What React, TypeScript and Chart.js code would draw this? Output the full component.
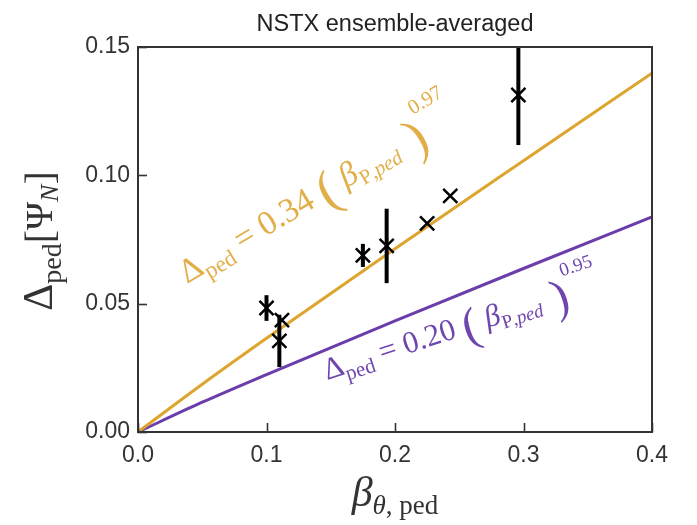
import React, { useEffect, useRef } from "react";
import { Chart, registerables } from "chart.js";

Chart.register(...registerables);

// ---- data ----
const betaPed = [0.1, 0.112, 0.11, 0.175, 0.1935, 0.225, 0.243, 0.296];
const deltaPed = [0.0483, 0.0436, 0.0355, 0.0688, 0.0725, 0.0813, 0.092, 0.1313];
const deltaErr = [0.005, 0.0, 0.0102, 0.0045, 0.0145, 0.0, 0.0, 0.0195];

const fitBeta = [0, 0.05, 0.1, 0.2, 0.3, 0.4];
const fitOrange = [0, 0.0186, 0.0365, 0.0714, 0.1057, 0.1398];
const fitPurple = [0, 0.0116, 0.0224, 0.0433, 0.0637, 0.0838];

const xTicks = [0, 0.1, 0.2, 0.3, 0.4];
const yTicks = [0, 0.05, 0.1, 0.15];

const titleText = "NSTX ensemble-averaged";

const ORANGE = "#DDA52E";
const ORANGE_TXT = "#E2AE48";
const PURPLE = "#6A3DAA";
const PURPLE_TXT = "#6E46AE";
const AXIS = "#333333";

type Seg = { t: string; f: string; dy: number };

function drawRich(ctx: CanvasRenderingContext2D, x: number, y: number, angleDeg: number, segs: Seg[], color: string) {
  ctx.save();
  ctx.translate(x, y);
  ctx.rotate((-angleDeg * Math.PI) / 180);
  ctx.fillStyle = color;
  ctx.textBaseline = "alphabetic";
  ctx.textAlign = "left";
  let cx = 0;
  for (const s of segs) {
    ctx.font = s.f;
    ctx.fillText(s.t, cx, s.dy);
    cx += ctx.measureText(s.t).width;
  }
  ctx.restore();
}

function richWidth(ctx: CanvasRenderingContext2D, segs: Seg[]) {
  let w = 0;
  for (const s of segs) {
    ctx.font = s.f;
    w += ctx.measureText(s.t).width;
  }
  return w;
}

const SERIF = '"Liberation Serif", "DejaVu Serif", serif';

function fitLabel(coef: string, expo: string, k: number): Seg[] {
  const px = (n: number) => `${(n * k).toFixed(1)}px`;
  return [
    { t: "\u0394", f: `${px(31)} ${SERIF}`, dy: 0 },
    { t: "ped", f: `${px(21)} ${SERIF}`, dy: 7 * k },
    { t: " = " + coef + " ", f: `${px(31)} ${SERIF}`, dy: 0 },
    { t: "(", f: `${px(48)} ${SERIF}`, dy: 8 * k },
    { t: " \u03B2", f: `italic ${px(31)} ${SERIF}`, dy: 0 },
    { t: "P", f: `${px(19)} ${SERIF}`, dy: 6 * k },
    { t: ",ped", f: `italic ${px(19)} ${SERIF}`, dy: 6 * k },
    { t: " )", f: `${px(48)} ${SERIF}`, dy: 8 * k },
    { t: expo, f: `${px(19)} ${SERIF}`, dy: -26 * k },
  ];
}

const decorPlugin = {
  id: "decor",
  beforeDatasetDraw(chart: any, args: any) {
    if (args.index !== 0) return;
    const { ctx, chartArea: a } = chart;
    const xs = chart.scales.x;
    const ys = chart.scales.y;
    ctx.save();
    ctx.beginPath();
    ctx.rect(a.left, a.top, a.right - a.left, a.bottom - a.top);
    ctx.clip();
    ctx.strokeStyle = "#000";
    ctx.lineWidth = 4;
    ctx.lineCap = "butt";
    for (let i = 0; i < betaPed.length; i++) {
      if (!deltaErr[i]) continue;
      const px = xs.getPixelForValue(betaPed[i]);
      ctx.beginPath();
      ctx.moveTo(px, ys.getPixelForValue(deltaPed[i] - deltaErr[i]));
      ctx.lineTo(px, ys.getPixelForValue(deltaPed[i] + deltaErr[i]));
      ctx.stroke();
    }
    ctx.restore();
  },
  afterDraw(chart: any) {
    const { ctx, chartArea: a } = chart;
    const xs = chart.scales.x;
    const ys = chart.scales.y;
    ctx.save();
    // frame
    ctx.strokeStyle = AXIS;
    ctx.lineWidth = 2;
    ctx.strokeRect(a.left, a.top, a.right - a.left, a.bottom - a.top);
    // inward ticks
    ctx.lineWidth = 1.6;
    for (const v of xTicks) {
      const px = Math.round(xs.getPixelForValue(v)) + 0.5;
      ctx.beginPath();
      ctx.moveTo(px, a.bottom);
      ctx.lineTo(px, a.bottom - 9);
      ctx.stroke();
    }
    for (const v of yTicks) {
      const py = Math.round(ys.getPixelForValue(v)) + 0.5;
      ctx.beginPath();
      ctx.moveTo(a.left, py);
      ctx.lineTo(a.left + 9, py);
      ctx.stroke();
    }
    // title
    ctx.fillStyle = "#222";
    ctx.font = '23.5px "Liberation Sans", Arial, sans-serif';
    ctx.textAlign = "center";
    ctx.textBaseline = "alphabetic";
    ctx.fillText(titleText, (a.left + a.right) / 2, 31);

    // x axis label
    const xl: Seg[] = [
      { t: "\u03B2", f: `italic 42px ${SERIF}`, dy: 0 },
      { t: "\u03B8", f: `italic 27px ${SERIF}`, dy: 8 },
      { t: ", ped", f: `27px ${SERIF}`, dy: 8 },
    ];
    const xw = richWidth(ctx, xl);
    drawRich(ctx, (a.left + a.right) / 2 - xw / 2, 506, 0, xl, AXIS);

    // y axis label (rotated)
    const yl: Seg[] = [
      { t: "\u0394", f: `42px ${SERIF}`, dy: 0 },
      { t: "ped", f: `28px ${SERIF}`, dy: 9 },
      { t: "[", f: `40px ${SERIF}`, dy: 1 },
      { t: "\u03A8", f: `38px ${SERIF}`, dy: 0 },
      { t: "N", f: `italic 26px ${SERIF}`, dy: 6 },
      { t: "]", f: `40px ${SERIF}`, dy: 1 },
    ];
    const yw = richWidth(ctx, yl);
    drawRich(ctx, 52, 241 + yw / 2, 90, yl, AXIS);

    // fit annotations
    drawRich(ctx, 187, 284, 31, fitLabel("0.34", "0.97", 1.1), ORANGE_TXT);
    drawRich(ctx, 327, 380, 18, fitLabel("0.20", "0.95", 1.0), PURPLE_TXT);
    ctx.restore();
  },
};

export default function App() {
  const ref = useRef<HTMLCanvasElement | null>(null);
  useEffect(() => {
    if (!ref.current) return;
    const chart = new Chart(ref.current, {
      type: "scatter",
      data: {
        datasets: [
          {
            label: "NSTX",
            data: betaPed.map((b, i) => ({ x: b, y: deltaPed[i] })),
            pointStyle: "crossRot",
            pointRadius: 10,
            pointBorderWidth: 2.5,
            borderColor: "#000",
            backgroundColor: "#000",
            showLine: false,
          },
          {
            label: "fit 0.34",
            data: fitBeta.map((b, i) => ({ x: b, y: fitOrange[i] })),
            showLine: true,
            borderColor: ORANGE,
            borderWidth: 3,
            pointRadius: 0,
            cubicInterpolationMode: "monotone",
          },
          {
            label: "fit 0.20",
            data: fitBeta.map((b, i) => ({ x: b, y: fitPurple[i] })),
            showLine: true,
            borderColor: PURPLE,
            borderWidth: 3,
            pointRadius: 0,
            cubicInterpolationMode: "monotone",
          },
        ],
      },
      options: {
        animation: false,
        responsive: true,
        maintainAspectRatio: false,
        layout: { padding: { top: 47, right: 45, left: 0, bottom: 0 } },
        plugins: { legend: { display: false }, title: { display: false }, tooltip: { enabled: false } },
        events: [],
        scales: {
          x: {
            type: "linear",
            min: 0,
            max: 0.4,
            afterFit: (s: any) => {
              s.height = 93;
            },
            afterBuildTicks: (s: any) => {
              s.ticks = xTicks.map((v) => ({ value: v }));
            },
            grid: { display: false, drawTicks: false },
            border: { display: false },
            ticks: {
              color: AXIS,
              padding: 10,
              font: { family: '"Liberation Sans", Arial, sans-serif', size: 23 },
              callback: (v: any) => Number(v).toFixed(1),
              maxRotation: 0,
            },
          },
          y: {
            type: "linear",
            min: 0,
            max: 0.15,
            afterFit: (s: any) => {
              s.width = 138;
            },
            afterBuildTicks: (s: any) => {
              s.ticks = yTicks.map((v) => ({ value: v }));
            },
            grid: { display: false, drawTicks: false },
            border: { display: false },
            ticks: {
              color: AXIS,
              padding: 8,
              font: { family: '"Liberation Sans", Arial, sans-serif', size: 23 },
              callback: (v: any) => Number(v).toFixed(2),
            },
          },
        },
      },
      plugins: [decorPlugin],
    } as any);
    return () => chart.destroy();
  }, []);
  return (
    <div style={{ position: "fixed", left: 0, top: 0, width: 697, height: 525, background: "#fff" }}>
      <canvas ref={ref} />
    </div>
  );
}
